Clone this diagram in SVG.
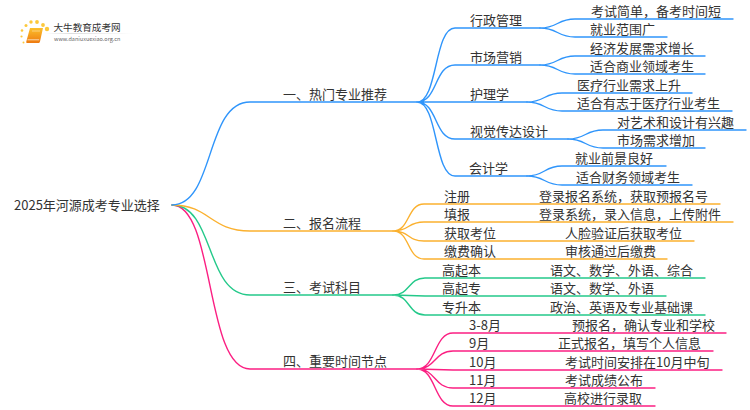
<svg xmlns="http://www.w3.org/2000/svg" width="750" height="410" viewBox="0 0 750 410">
<style>
text{font-family:"Noto Sans CJK SC","Noto Sans",sans-serif;font-size:13px;fill:#333}
.c path{fill:none;stroke-width:1.4;stroke-linecap:round}
.b path{stroke:#2f95fb}.o path{stroke:#fbb12f}.g path{stroke:#24c98a}.p path{stroke:#fb1f82}
</style>
<defs><linearGradient id="bk" x1="0" y1="0" x2="0" y2="1"><stop offset="0" stop-color="#fcc02c"/><stop offset="1" stop-color="#ee7a10"/></linearGradient>
<linearGradient id="ln"><stop offset="0" stop-color="#ddd" stop-opacity="0"/><stop offset=".3" stop-color="#ddd"/><stop offset="1" stop-color="#ddd" stop-opacity="0"/></linearGradient></defs>
<rect width="750" height="410" fill="#fff"/>
<g id="connectors" class="c">
<g class="p"><path d="M172 205C215 205 205 369 250 369H417"/></g>
<g class="g"><path d="M172 205C215 205 205 295 250 295H393"/><path d="M393 295C410 295 408 278 425 278H705M393 295L425 296H666M393 295C410 295 408 315 425 315H705"/></g>
<g class="o"><path d="M172 205C210 205 210 231 250 231H393"/><path d="M393 231C410 231 407 204 424 204H720M393 231C410 231 407 222 424 222H733M393 231C410 231 407 241 424 241H694M393 231C410 231 407 259 424 259H667"/></g>
<g class="b"><path d="M172 205C215 205 205 102 250 102H417"/>
<path d="M417 102C438 102 434 28 455 28H540M417 102C438 102 434 65 455 65H540M417 102H527M417 102C438 102 434 139 455 139H568M417 102C438 102 434 176 455 176H527"/>
<path d="M540 28C558 28 557 19 575 19H733M540 28C558 28 557 37 575 37H667M540 65C558 65 557 56 575 56H705M540 65C558 65 557 74 575 74H705M527 102C545 102 544 93 562 93H692M527 102C545 102 544 111 562 111H732M568 139C586 139 585 130 603 130H746M568 139C586 139 585 148 603 148H705M527 176C545 176 544 166 562 166H666M527 176C545 176 544 185 562 185H692"/></g>
<g class="p"><path d="M417 369C436 369 434 333 453 333H726M417 369C436 369 434 351 453 351H713M417 369L453 370H722M417 369C436 369 434 388 453 388H655M417 369C436 369 434 406 453 406H655"/></g>
</g>
<g id="logo">
<path d="M30 28H43L40 41.500C39.800 42.500 39 43 38 43H27Q26 43 26.300 41.500Z" fill="url(#bk)"/><path d="M27.500 39.800H39.200" stroke="#fff" stroke-width=".9" opacity=".75"/><path d="M32 31H40" stroke="#fff" stroke-width=".8" opacity=".5"/>
<g fill="#fcc83c"><circle cx="47" cy="29" r="2.200"/><circle cx="43" cy="25" r="1.900"/><circle cx="37" cy="22" r="1.900"/><circle cx="31" cy="22" r="1.700"/><circle cx="26" cy="25.500" r="1.500"/><circle cx="22" cy="30.500" r="1.300"/><circle cx="21.500" cy="36.500" r="1.100"/><circle cx="23.500" cy="42.500" r="1"/></g>
<rect x="45" y="33" width="88" height="1" fill="url(#ln)"/>
<text x="53.500" y="31" style="font-size:9.600px">大牛教育成考网</text>
<text x="54" y="41" style="font-size:5.500px;fill:#666">www.daniuxuexiao.org.cn</text>
</g>
<g id="root"><text x="14" y="209.500">2025年河源成考专业选择</text></g>
<g id="n1"><text x="283" y="99">一、热门专业推荐</text></g>
<g id="n1-1"><text x="470" y="25">行政管理</text></g>
<g id="n1-1-1"><text x="591" y="16">考试简单，备考时间短</text></g>
<g id="n1-1-2"><text x="590" y="34">就业范围广</text></g>
<g id="n1-2"><text x="470" y="62">市场营销</text></g>
<g id="n1-2-1"><text x="590" y="53">经济发展需求增长</text></g>
<g id="n1-2-2"><text x="590" y="71">适合商业领域考生</text></g>
<g id="n1-3"><text x="470" y="99">护理学</text></g>
<g id="n1-3-1"><text x="577" y="90">医疗行业需求上升</text></g>
<g id="n1-3-2"><text x="577" y="108">适合有志于医疗行业考生</text></g>
<g id="n1-4"><text x="470" y="136">视觉传达设计</text></g>
<g id="n1-4-1"><text x="617" y="127">对艺术和设计有兴趣</text></g>
<g id="n1-4-2"><text x="617" y="145">市场需求增加</text></g>
<g id="n1-5"><text x="469" y="173">会计学</text></g>
<g id="n1-5-1"><text x="575" y="163">就业前景良好</text></g>
<g id="n1-5-2"><text x="576" y="182">适合财务领域考生</text></g>
<g id="n2"><text x="283" y="228">二、报名流程</text></g>
<g id="n2-1"><text x="444" y="201">注册</text><text x="539" y="201">登录报名系统，获取预报名号</text></g>
<g id="n2-2"><text x="444" y="219">填报</text><text x="539" y="219">登录系统，录入信息，上传附件</text></g>
<g id="n2-3"><text x="444" y="238">获取考位</text><text x="565" y="238">人脸验证后获取考位</text></g>
<g id="n2-4"><text x="444" y="256">缴费确认</text><text x="565" y="256">审核通过后缴费</text></g>
<g id="n3"><text x="283" y="292">三、考试科目</text></g>
<g id="n3-1"><text x="442" y="275">高起本</text><text x="550" y="275">语文、数学、外语、综合</text></g>
<g id="n3-2"><text x="442" y="293">高起专</text><text x="550" y="293">语文、数学、外语</text></g>
<g id="n3-3"><text x="442" y="312">专升本</text><text x="550" y="312">政治、英语及专业基础课</text></g>
<g id="n4"><text x="283" y="366">四、重要时间节点</text></g>
<g id="n4-1"><text x="469" y="330">3-8月</text><text x="572" y="330">预报名，确认专业和学校</text></g>
<g id="n4-2"><text x="469" y="348">9月</text><text x="558" y="348">正式报名，填写个人信息</text></g>
<g id="n4-3"><text x="469" y="367">10月</text><text x="565" y="367">考试时间安排在10月中旬</text></g>
<g id="n4-4"><text x="469" y="385">11月</text><text x="565" y="385">考试成绩公布</text></g>
<g id="n4-5"><text x="469" y="403">12月</text><text x="564" y="403">高校进行录取</text></g>
</svg>
